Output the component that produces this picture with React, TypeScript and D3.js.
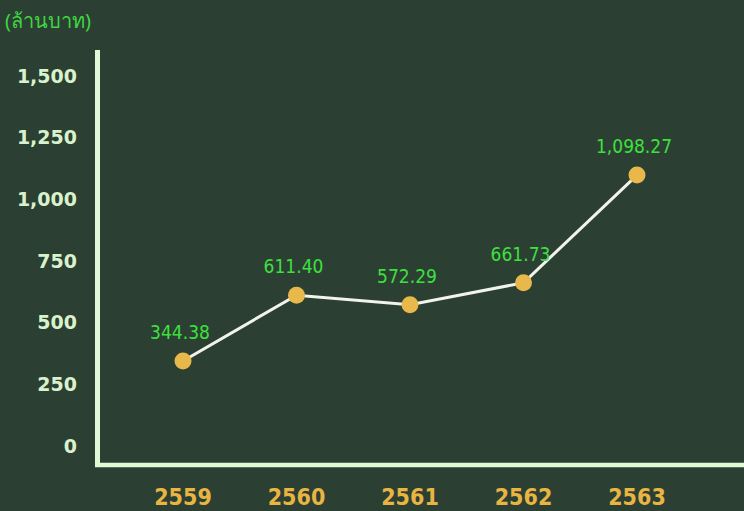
import React from "react";
import * as d3 from "d3";

const years = ["2559", "2560", "2561", "2562", "2563"];
const values = [344.38, 611.4, 572.29, 661.73, 1098.27];
const valueLabels = ["344.38", "611.40", "572.29", "661.73", "1,098.27"];
const yTicks = [0, 250, 500, 750, 1000, 1250, 1500];
const unitLabel = "(ล้านบาท)";

const W = 744;
const H = 511;

export default function App() {
  const x = d3.scalePoint<string>().domain(years).range([183, 637]);
  const y = d3.scaleLinear().domain([0, 1500]).range([446, 76]);
  const line = d3
    .line<number>()
    .x((_, i) => x(years[i]) as number)
    .y((d) => y(d));
  const fmt = d3.format(",");

  return (
    <svg
      width={W}
      height={H}
      style={{ position: "absolute", left: 0, top: 0, display: "block" }}
    >
      <rect width={W} height={H} fill="#2b3f33" />
      <text
        x={5}
        y={28}
        fill="#3fd63f"
        fontSize={20}
        fontFamily="'Noto Sans', 'DejaVu Sans', sans-serif"
      >
        {unitLabel}
      </text>
      {yTicks.map((t) => (
        <text
          key={t}
          x={77}
          y={y(t)}
          dy="0.35em"
          textAnchor="end"
          fill="#d9f2cc"
          fontSize={19}
          fontWeight="bold"
          fontFamily="'DejaVu Sans', sans-serif"
        >
          {fmt(t)}
        </text>
      ))}
      <line x1={97.5} y1={50} x2={97.5} y2={467} stroke="#e2f9d8" strokeWidth={5} />
      <line x1={95} y1={465} x2={744} y2={465} stroke="#e2f9d8" strokeWidth={4.5} />
      {years.map((yr) => (
        <text
          key={yr}
          x={x(yr)}
          y={505}
          textAnchor="middle"
          fill="#e8b442"
          fontSize={23}
          fontWeight="bold"
          fontFamily="'DejaVu Sans Condensed', 'DejaVu Sans', sans-serif"
        >
          {yr}
        </text>
      ))}
      <path d={line(values) || ""} fill="none" stroke="#f2f4ea" strokeWidth={3} />
      {values.map((v, i) => (
        <circle key={i} cx={x(years[i])} cy={y(v)} r={8.5} fill="#e8b84a" />
      ))}
      {values.map((v, i) => (
        <text
          key={i}
          x={(x(years[i]) as number) - 3}
          y={y(v) - 22}
          textAnchor="middle"
          fill="#3ee03e"
          fontSize={19}
          fontFamily="'DejaVu Sans Condensed', 'DejaVu Sans', sans-serif"
        >
          {valueLabels[i]}
        </text>
      ))}
    </svg>
  );
}
